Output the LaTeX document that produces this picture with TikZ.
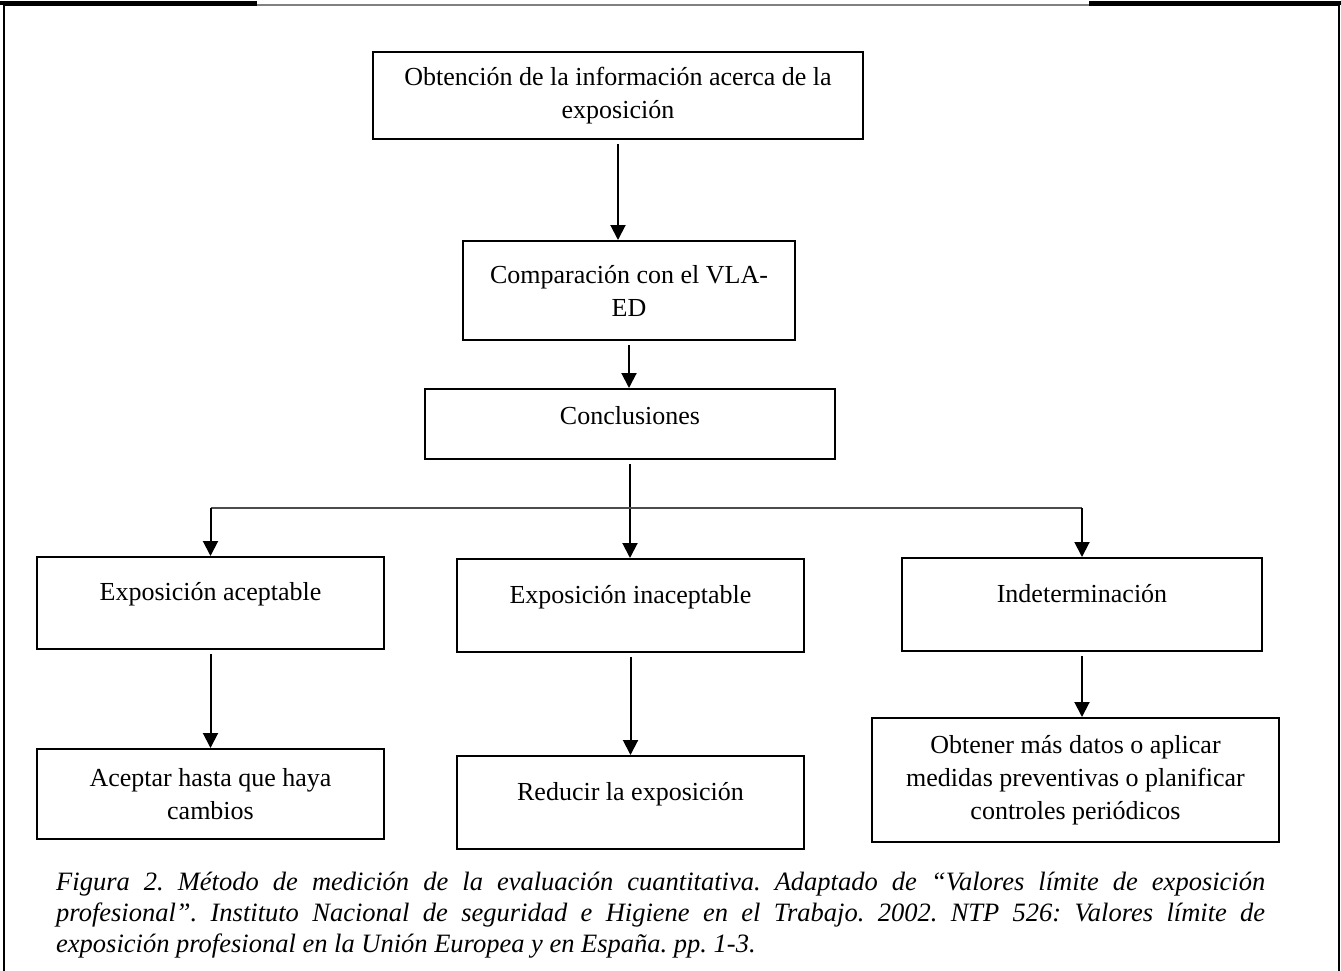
\documentclass[tikz,border=0pt]{standalone}
\usepackage{fontspec}
\setmainfont{Liberation Serif}
\usetikzlibrary{arrows.meta}
\frenchspacing
\tikzstyle{Box}=[rectangle, draw=black, line width=2pt, align=center, inner sep=0pt, font=\fontsize{26}{33}\selectfont]
\tikzstyle{Arrow}=[line width=2pt, -{Triangle[width=15pt,length=15pt]}, shorten <=4pt]

\begin{document}
\begin{tikzpicture}[x=1pt, y=-1pt]
    \useasboundingbox (0,0) rectangle (1341,971);
    % marco de la figura
    \draw[line width=2pt] (4,990) -- (4,5) -- (1339,5) -- (1339,990);
    \draw[line width=1.2pt, gray] (257,5) -- (1089,5);
    \draw[line width=3.5pt] (0,3) -- (257,3) (1089,3) -- (1341,3);

    \path
    (618,95.5) node[Box, minimum width=490, minimum height=87] (obt) {Obtención de la información acerca de la\\exposición}
    (629,290.5) node[Box, minimum width=332, minimum height=99] (comp) {Comparación con el VLA-\\ED}
    (630,424) node[Box, minimum width=410, minimum height=70, text depth=18pt] (concl) {Conclusiones}
    coordinate[] (J) at (630,508)
    (210.5,603) node[Box, minimum width=347, minimum height=92, text depth=24pt] (acept) {Exposición aceptable}
    (630.5,605.5) node[Box, minimum width=347, minimum height=93, text depth=23pt] (inacept) {Exposición inaceptable}
    (1082,604.5) node[Box, minimum width=360, minimum height=93, text depth=23pt] (indet) {Indeterminación}
    (210.5,794) node[Box, minimum width=347, minimum height=90] (aceptar) {Aceptar hasta que haya\\cambios}
    (630.5,802.5) node[Box, minimum width=347, minimum height=93, text depth=23pt] (reducir) {Reducir la exposición}
    (1075.5,780) node[Box, minimum width=407, minimum height=124] (obtener) {Obtener más datos o aplicar\\medidas preventivas o planificar\\controles periódicos}
    (56,872) node[anchor=north west, inner sep=0pt, text width=1209, align=justify, font=\itshape\fontsize{26.5}{31}\selectfont] (pie) {Figura 2. Método de medición de la evaluación cuantitativa. Adaptado de “Valores límite de exposición\linebreak profesional”. Instituto Nacional de seguridad e Higiene en el Trabajo. 2002. NTP 526: Valores límite de\linebreak exposición profesional en la Unión Europea y en España. pp. 1-3.};

    \draw[Arrow] (obt) -- (obt |- comp.north);
    \draw[Arrow] (comp) -- (comp |- concl.north);
    \draw[Arrow] (concl) -- (concl |- inacept.north);
    \draw[line width=1.2pt, black!70] (acept |- J) -- (indet |- J);
    \draw[Arrow, shorten <=0pt] (acept |- J) -- (acept);
    \draw[Arrow, shorten <=0pt] (indet |- J) -- (indet);
    \draw[Arrow] (acept) -- (acept |- aceptar.north);
    \draw[Arrow] (inacept) -- (inacept |- reducir.north);
    \draw[Arrow] (indet) -- (indet |- obtener.north);
\end{tikzpicture}
\end{document}
